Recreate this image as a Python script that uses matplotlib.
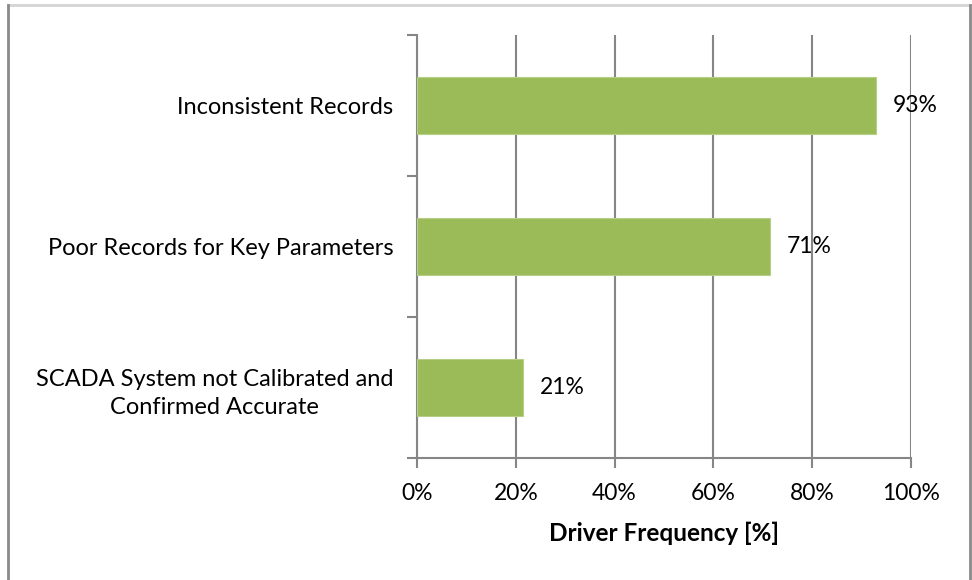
import matplotlib
matplotlib.use("Agg")
import matplotlib.pyplot as plt
from matplotlib.lines import Line2D
from matplotlib.ticker import FuncFormatter

categories = [
    "SCADA System not Calibrated and\nConfirmed Accurate",
    "Poor Records for Key Parameters",
    "Inconsistent Records",
]
frequency = [0.215, 0.715, 0.93]
value_labels = ["21%", "71%", "93%"]
xticks = [0, 0.2, 0.4, 0.6, 0.8, 1.0]

plt.rcParams["font.family"] = ["Lato", "DejaVu Sans"]

W, H = 972, 580
fig = plt.figure(figsize=(W / 100, H / 100), dpi=100)
ax = fig.add_axes([417 / W, 1 - 458 / H, (911 - 417) / W, (458 - 35) / H])

grid_col = "#868686"
bar_col = "#9BBB59"

ypos = list(range(len(categories)))
ax.barh(ypos, frequency, height=0.4, color=bar_col, edgecolor="#b5cf86",
        linewidth=0.8, zorder=3)
for y, v, lab in zip(ypos, frequency, value_labels):
    ax.text(v + 0.034, y, lab, va="center", ha="left", fontsize=16.5,
            color="black", zorder=4)

ax.set_xlim(0, 1.0)
ax.set_ylim(-0.5, len(categories) - 0.5)
ax.set_xticks(xticks)
ax.xaxis.set_major_formatter(FuncFormatter(lambda v, p: f"{v*100:.0f}%"))
ax.set_yticks(ypos)
ax.set_yticklabels(categories, fontsize=17, ha="right")
for t in ax.get_yticklabels():
    t.set_multialignment("center")
    t.set_linespacing(1.45)
ax.tick_params(axis="y", length=0, pad=17)
ax.set_yticks([-0.5 + i for i in range(len(categories) + 1)], minor=True)
ax.tick_params(axis="y", which="minor", length=7, width=1.5, color=grid_col)
ax.tick_params(axis="x", length=7, width=1.5, color=grid_col,
               labelsize=16.5, pad=11)

ax.grid(axis="x", color=grid_col, linewidth=1.5, zorder=1)
ax.set_axisbelow(True)
for s in ["top", "right"]:
    ax.spines[s].set_visible(False)
for s in ["left", "bottom"]:
    ax.spines[s].set_color(grid_col)
    ax.spines[s].set_linewidth(1.5)

ax.set_xlabel("Driver Frequency [%]", fontsize=17.5, fontweight="bold",
              labelpad=13)

# outer chart frame
def px(x, y):
    return x / W, 1 - y / H

for (x0, y0), (x1, y1), c in [((8, 5), (970, 5), "#d4d4d4"),
                              ((8, 5), (8, 590), "#8a8a8a"),
                              ((970, 5), (970, 590), "#8a8a8a")]:
    a, b = px(x0, y0)
    c2, d = px(x1, y1)
    fig.add_artist(Line2D([a, c2], [b, d], color=c, linewidth=2,
                          transform=fig.transFigure))

fig.savefig("out.png", dpi=100)
